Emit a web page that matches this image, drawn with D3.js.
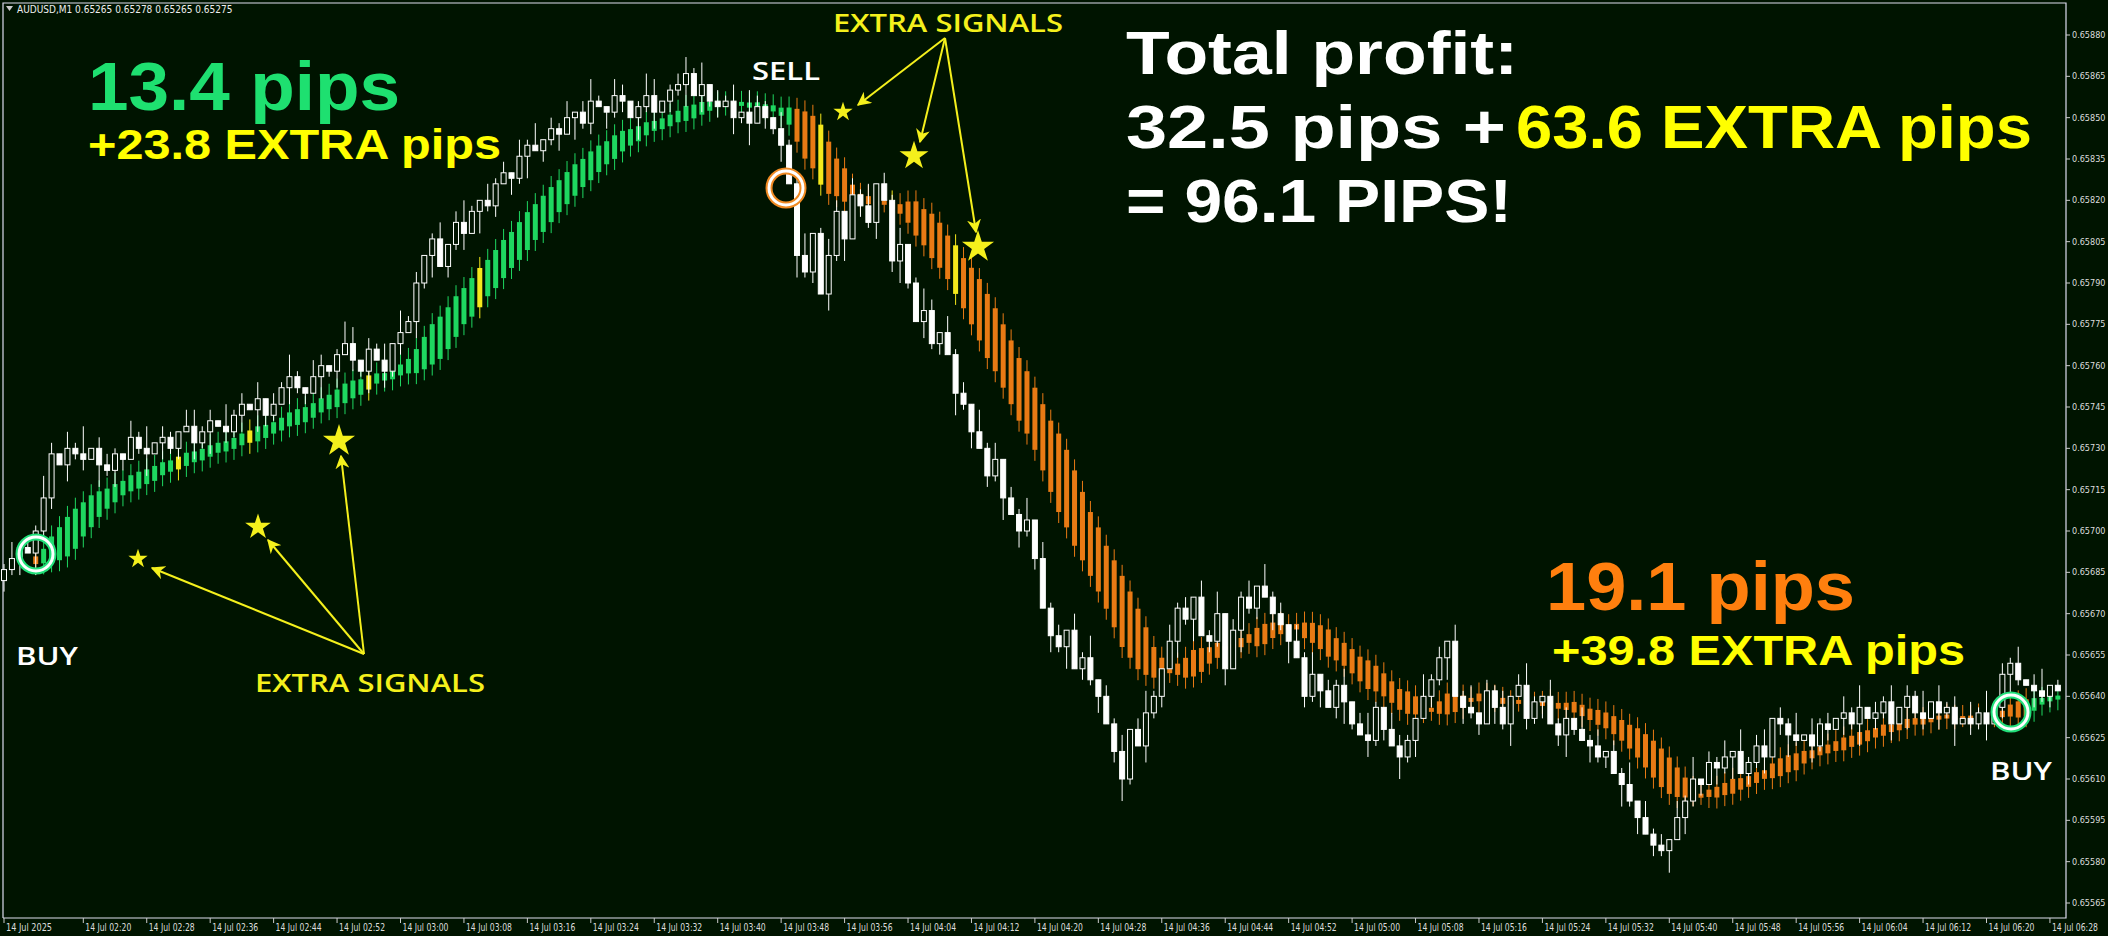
<!DOCTYPE html>
<html>
<head>
<meta charset="utf-8">
<script src="https://cdn.jsdelivr.net/npm/d3@7"></script>
<style>
  body { margin: 0; background: #001400; }
  svg { display: block; }
</style>
</head>
<body>
<div id="app"></div>
<script>
'use strict';

// closes in points above 0.65000, one per M1 bar starting 02:10
const closes = [
  686,690,694,692,700,712,728,724,730,728,
  726,730,724,722,728,726,734,730,728,732,
  734,730,736,738,732,736,740,738,736,742,
  746,744,748,742,746,752,756,752,750,756,
  760,758,764,768,762,758,766,762,758,768,
  772,776,790,800,806,796,804,812,808,816,
  820,818,826,830,828,836,840,838,842,846,
  844,850,852,848,856,854,852,858,856,850,
  854,858,852,856,860,862,866,858,862,856,
  854,856,850,852,848,854,850,846,840,826,
  800,794,808,786,800,816,806,822,818,812,
  826,820,798,804,790,776,780,768,772,764,
  750,746,736,730,720,726,712,706,700,704,
  690,672,662,658,664,650,654,646,640,630,
  620,610,628,622,634,640,650,660,672,668,
  676,662,660,670,650,664,676,672,680,676,
  670,666,660,654,640,648,642,636,644,638,
  630,626,624,636,628,622,618,624,632,640,
  646,654,660,640,636,634,630,642,636,630,
  640,644,632,638,640,630,626,632,628,624,
  622,618,620,612,608,602,596,590,586,584,
  588,596,602,610,608,616,614,618,620,612,
  616,622,618,632,630,626,624,626,622,630,
  628,632,634,630,636,632,634,638,630,636,
  640,634,632,638,634,636,630,632,630,634,
  630,636,648,652,646,644,642,640,644,642
]
const firstOpen = 682
// wick sizes (in 2-point units), hand read
const wickUp = '1302142031502210314021033120412030214103201430213041201302410312031402130241032014301231402130421031240132031402130142031204130214031203140213024103120314021304120314021302410321041203140213024103120413021403120314021304123021403120314021302140312031402130240132014032103140213024103'
const wickDn = '2130412031204132014031203140213042103120413021403120314021304120314021304120312041302140312031402130412031402130241031204130214031203140213024103120314021304120314021302410312041302140312031402130241031204130214031203140213024103120314021304120314021302410312041302140312031402'

const startMinute = 2 * 60 + 10
const priceTicks = d3.range(565, 881, 15)
const trendColors = [[0, '#e87a14'], [5, '#1ed760'], [100, '#e87a14'], [256, '#1ed760']]
const yellowBars = [22, 31, 46, 60, 103, 112, 120]
const stars = [[138, 559, 6], [258, 527, 8], [339, 441, 10], [843, 112, 6], [914, 156, 9], [978, 247, 10]]
const rings = [[36, 554, '#22e07a'], [786, 188, '#f08a22'], [2011, 712, '#22e07a']]

const W = 2108, H = 936
const plotR = 2066, plotB = 918

const svg = d3.select('#app').append('svg').attr('width', W).attr('height', H)
  .style('font-family', '"Liberation Sans Narrow", "DejaVu Sans Condensed", sans-serif')
svg.append('rect').attr('width', W).attr('height', H).attr('fill', '#001400')

const x = d3.scaleLinear().domain([0, 1]).range([4, 11.93])
const y = d3.scaleLinear().domain([565, 880]).range([903, 35])

// frame
svg.append('path').attr('d', `M3,${plotB}V3H${plotR}V${plotB}H3`).attr('fill', 'none').attr('stroke', '#dde').attr('stroke-width', 1.2)

// price axis
const pa = svg.append('g')
priceTicks.forEach(p => {
  pa.append('line').attr('x1', plotR).attr('x2', plotR + 4).attr('y1', y(p)).attr('y2', y(p)).attr('stroke', '#ccc')
  pa.append('text').attr('x', plotR + 6).attr('y', y(p) + 3).attr('fill', '#ddd').attr('font-size', 9)
    .text((0.65 + p / 100000).toFixed(5))
})

// time axis
const ta = svg.append('g')
for (let bar = 0; bar <= 258; bar += 8) {
  const m = startMinute + bar + 2
  const b = bar === 0 ? 0 : bar + 2
  if (b > 258) break
  const lbl = bar === 0 ? '14 Jul 2025' : `14 Jul ${String(Math.floor(m / 60)).padStart(2, '0')}:${String(m % 60).padStart(2, '0')}`
  ta.append('line').attr('x1', x(b)).attr('x2', x(b)).attr('y1', plotB).attr('y2', plotB + 5).attr('stroke', '#ccc')
  ta.append('text').attr('x', x(b) + 2).attr('y', plotB + 13).attr('fill', '#ddd').attr('font-size', 10)
    .attr('textLength', 46).attr('lengthAdjust', 'spacingAndGlyphs').text(lbl)
}

// header
svg.append('path').attr('d', 'M6,6h7l-3.5,5z').attr('fill', '#ccc')
svg.append('text').attr('x', 17).attr('y', 13).attr('fill', '#eee').attr('font-size', 10)
  .text('AUDUSD,M1  0.65265 0.65278 0.65265 0.65275')

// OHLC
const bars = closes.map((c, i) => {
  const o = i === 0 ? firstOpen : closes[i - 1]
  return {
    i, o, c,
    h: Math.max(o, c) + 2 * +wickUp[i % wickUp.length],
    l: Math.min(o, c) - 2 * +wickDn[i % wickDn.length]
  }
})

// smoothed trend bars
const ema = []
closes.forEach((c, i) => ema.push(i === 0 ? 688 : ema[i - 1] + (c - ema[i - 1]) * 0.13))
const colorOf = i => {
  if (yellowBars.includes(i)) return '#f4e81c'
  let col = trendColors[0][1]
  trendColors.forEach(([s, cl]) => { if (i >= s) col = cl })
  return col
}
const tg = svg.append('g')
ema.forEach((v, i) => {
  if (i < 4) return
  const a = ema[i - 4], b = v
  const top = Math.max(a, b), bot = Math.min(a, b)
  tg.append('line').attr('x1', x(i)).attr('x2', x(i)).attr('y1', y(top + 4)).attr('y2', y(bot - 4))
    .attr('stroke', colorOf(i)).attr('stroke-width', 1)
  tg.append('rect').attr('x', x(i) - 2.5).attr('width', 5).attr('y', y(top))
    .attr('height', Math.max(4, y(bot) - y(top))).attr('fill', colorOf(i))
})

// candles
const cg = svg.append('g')
bars.forEach(d => {
  cg.append('line').attr('x1', x(d.i)).attr('x2', x(d.i)).attr('y1', y(d.h)).attr('y2', y(d.l))
    .attr('stroke', '#fff').attr('stroke-width', 1)
  const top = Math.max(d.o, d.c), bot = Math.min(d.o, d.c)
  cg.append('rect').attr('x', x(d.i) - 2.5).attr('width', 5).attr('y', y(top))
    .attr('height', Math.max(1.5, y(bot) - y(top)))
    .attr('fill', d.c >= d.o ? '#001400' : '#fff').attr('stroke', '#fff').attr('stroke-width', 1)
})

// arrows
const defs = svg.append('defs')
defs.append('marker').attr('id', 'ah').attr('viewBox', '0 0 10 10').attr('refX', 9).attr('refY', 5)
  .attr('markerWidth', 7).attr('markerHeight', 7).attr('orient', 'auto-start-reverse')
  .append('path').attr('d', 'M0,0L10,5L0,10L3,5z').attr('fill', '#f4f01c')
const arrow = (x1, y1, x2, y2) => svg.append('line').attr('x1', x1).attr('y1', y1).attr('x2', x2).attr('y2', y2)
  .attr('stroke', '#f4f01c').attr('stroke-width', 2).attr('marker-end', 'url(#ah)')
arrow(364, 654, 152, 568); arrow(364, 654, 268, 540); arrow(364, 654, 341, 456)
arrow(945, 38, 858, 105); arrow(945, 38, 920, 142); arrow(945, 38, 976, 232)

// stars
const star = d3.symbol().type(d3.symbolStar)
stars.forEach(([sx, sy, r]) => svg.append('path').attr('d', star.size(r * r * 3.2)())
  .attr('transform', `translate(${sx},${sy})`).attr('fill', '#f4f01c'))

// rings
rings.forEach(([rx, ry, col]) => {
  svg.append('circle').attr('cx', rx).attr('cy', ry).attr('r', 17).attr('fill', 'none').attr('stroke', col).attr('stroke-width', 7)
  svg.append('circle').attr('cx', rx).attr('cy', ry).attr('r', 17).attr('fill', 'none').attr('stroke', '#fff').attr('stroke-width', 3)
})

// annotations
const big = (t, tx, ty, size, w, col) => svg.append('text').attr('x', tx).attr('y', ty)
  .attr('font-family', '"Liberation Sans", Arial, sans-serif').attr('font-weight', 900)
  .attr('font-size', size).attr('fill', col).attr('textLength', w).attr('lengthAdjust', 'spacingAndGlyphs').text(t)
big('13.4 pips', 88, 110, 68, 312, '#1ee070')
big('+23.8 EXTRA pips', 88, 159, 42, 413, '#ffff00')
big('Total profit:', 1126, 74, 62, 392, '#ffffff')
big('32.5 pips + ', 1126, 148, 62, 380, '#ffffff')
big('63.6 EXTRA pips', 1516, 148, 62, 516, '#ffff00')
big('= 96.1 PIPS!', 1126, 222, 62, 386, '#ffffff')
big('19.1 pips', 1546, 610, 68, 309, '#ff7f0e')
big('+39.8 EXTRA pips', 1552, 665, 42, 413, '#ffff00')

const lbl = (t, tx, ty, w, col) => svg.append('text').attr('x', tx).attr('y', ty)
  .attr('font-family', '"Open Sans", sans-serif').attr('font-weight', 600).attr('font-size', 25)
  .attr('fill', col).attr('textLength', w).attr('lengthAdjust', 'spacingAndGlyphs').text(t)
lbl('BUY', 16, 665, 62, '#ffffff')
lbl('SELL', 752, 80, 68, '#ffffff')
lbl('BUY', 1990, 780, 62, '#ffffff')
lbl('EXTRA SIGNALS', 255, 692, 230, '#f4f01c')
lbl('EXTRA SIGNALS', 833, 32, 230, '#f4f01c')
</script>
</body>
</html>
